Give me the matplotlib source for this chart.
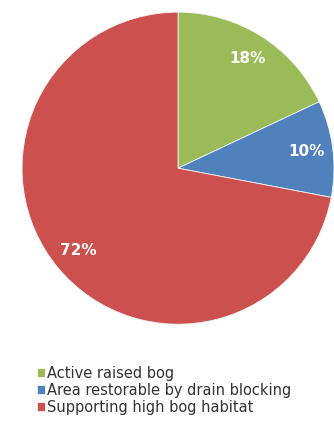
import matplotlib.pyplot as plt
from matplotlib.patches import Patch

# Share of each bog category
categories = ['Active raised bog', 'Area restorable by drain blocking', 'Supporting high bog habitat']
shares = [18, 10, 72]
colors = ['#9BBB59', '#4F81BD', '#CC504D']

plt.rcParams['font.family'] = ['DejaVu Sans']

fig = plt.figure(figsize=(3.34, 4.34), dpi=100)
ax = fig.add_axes([0.066, 0.253, 0.934, 0.719])

wedges, texts, autotexts = ax.pie(
    shares, colors=colors, startangle=90, counterclock=False,
    autopct='%d%%', pctdistance=0.83, radius=1,
    wedgeprops=dict(edgecolor='#f4f4f4', linewidth=0.6),
    textprops=dict(color='white', fontsize=11, fontweight='bold'))
ax.set_xlim(-1.0, 1.0)
ax.set_ylim(-1.0, 1.0)
ax.set_aspect('auto')

handles = [Patch(facecolor=c, edgecolor='white', linewidth=0.5) for c in colors]
leg = fig.legend(handles, categories, loc='upper left', bbox_to_anchor=(0.11, 0.157),
                 bbox_transform=fig.transFigure, frameon=False, fontsize=10.5,
                 handlelength=0.55, handleheight=0.55, handletextpad=0.15,
                 labelspacing=0.14, borderaxespad=0, borderpad=0)
for t in leg.get_texts():
    t.set_color('#333333')

fig.savefig('out.png', dpi=100)
